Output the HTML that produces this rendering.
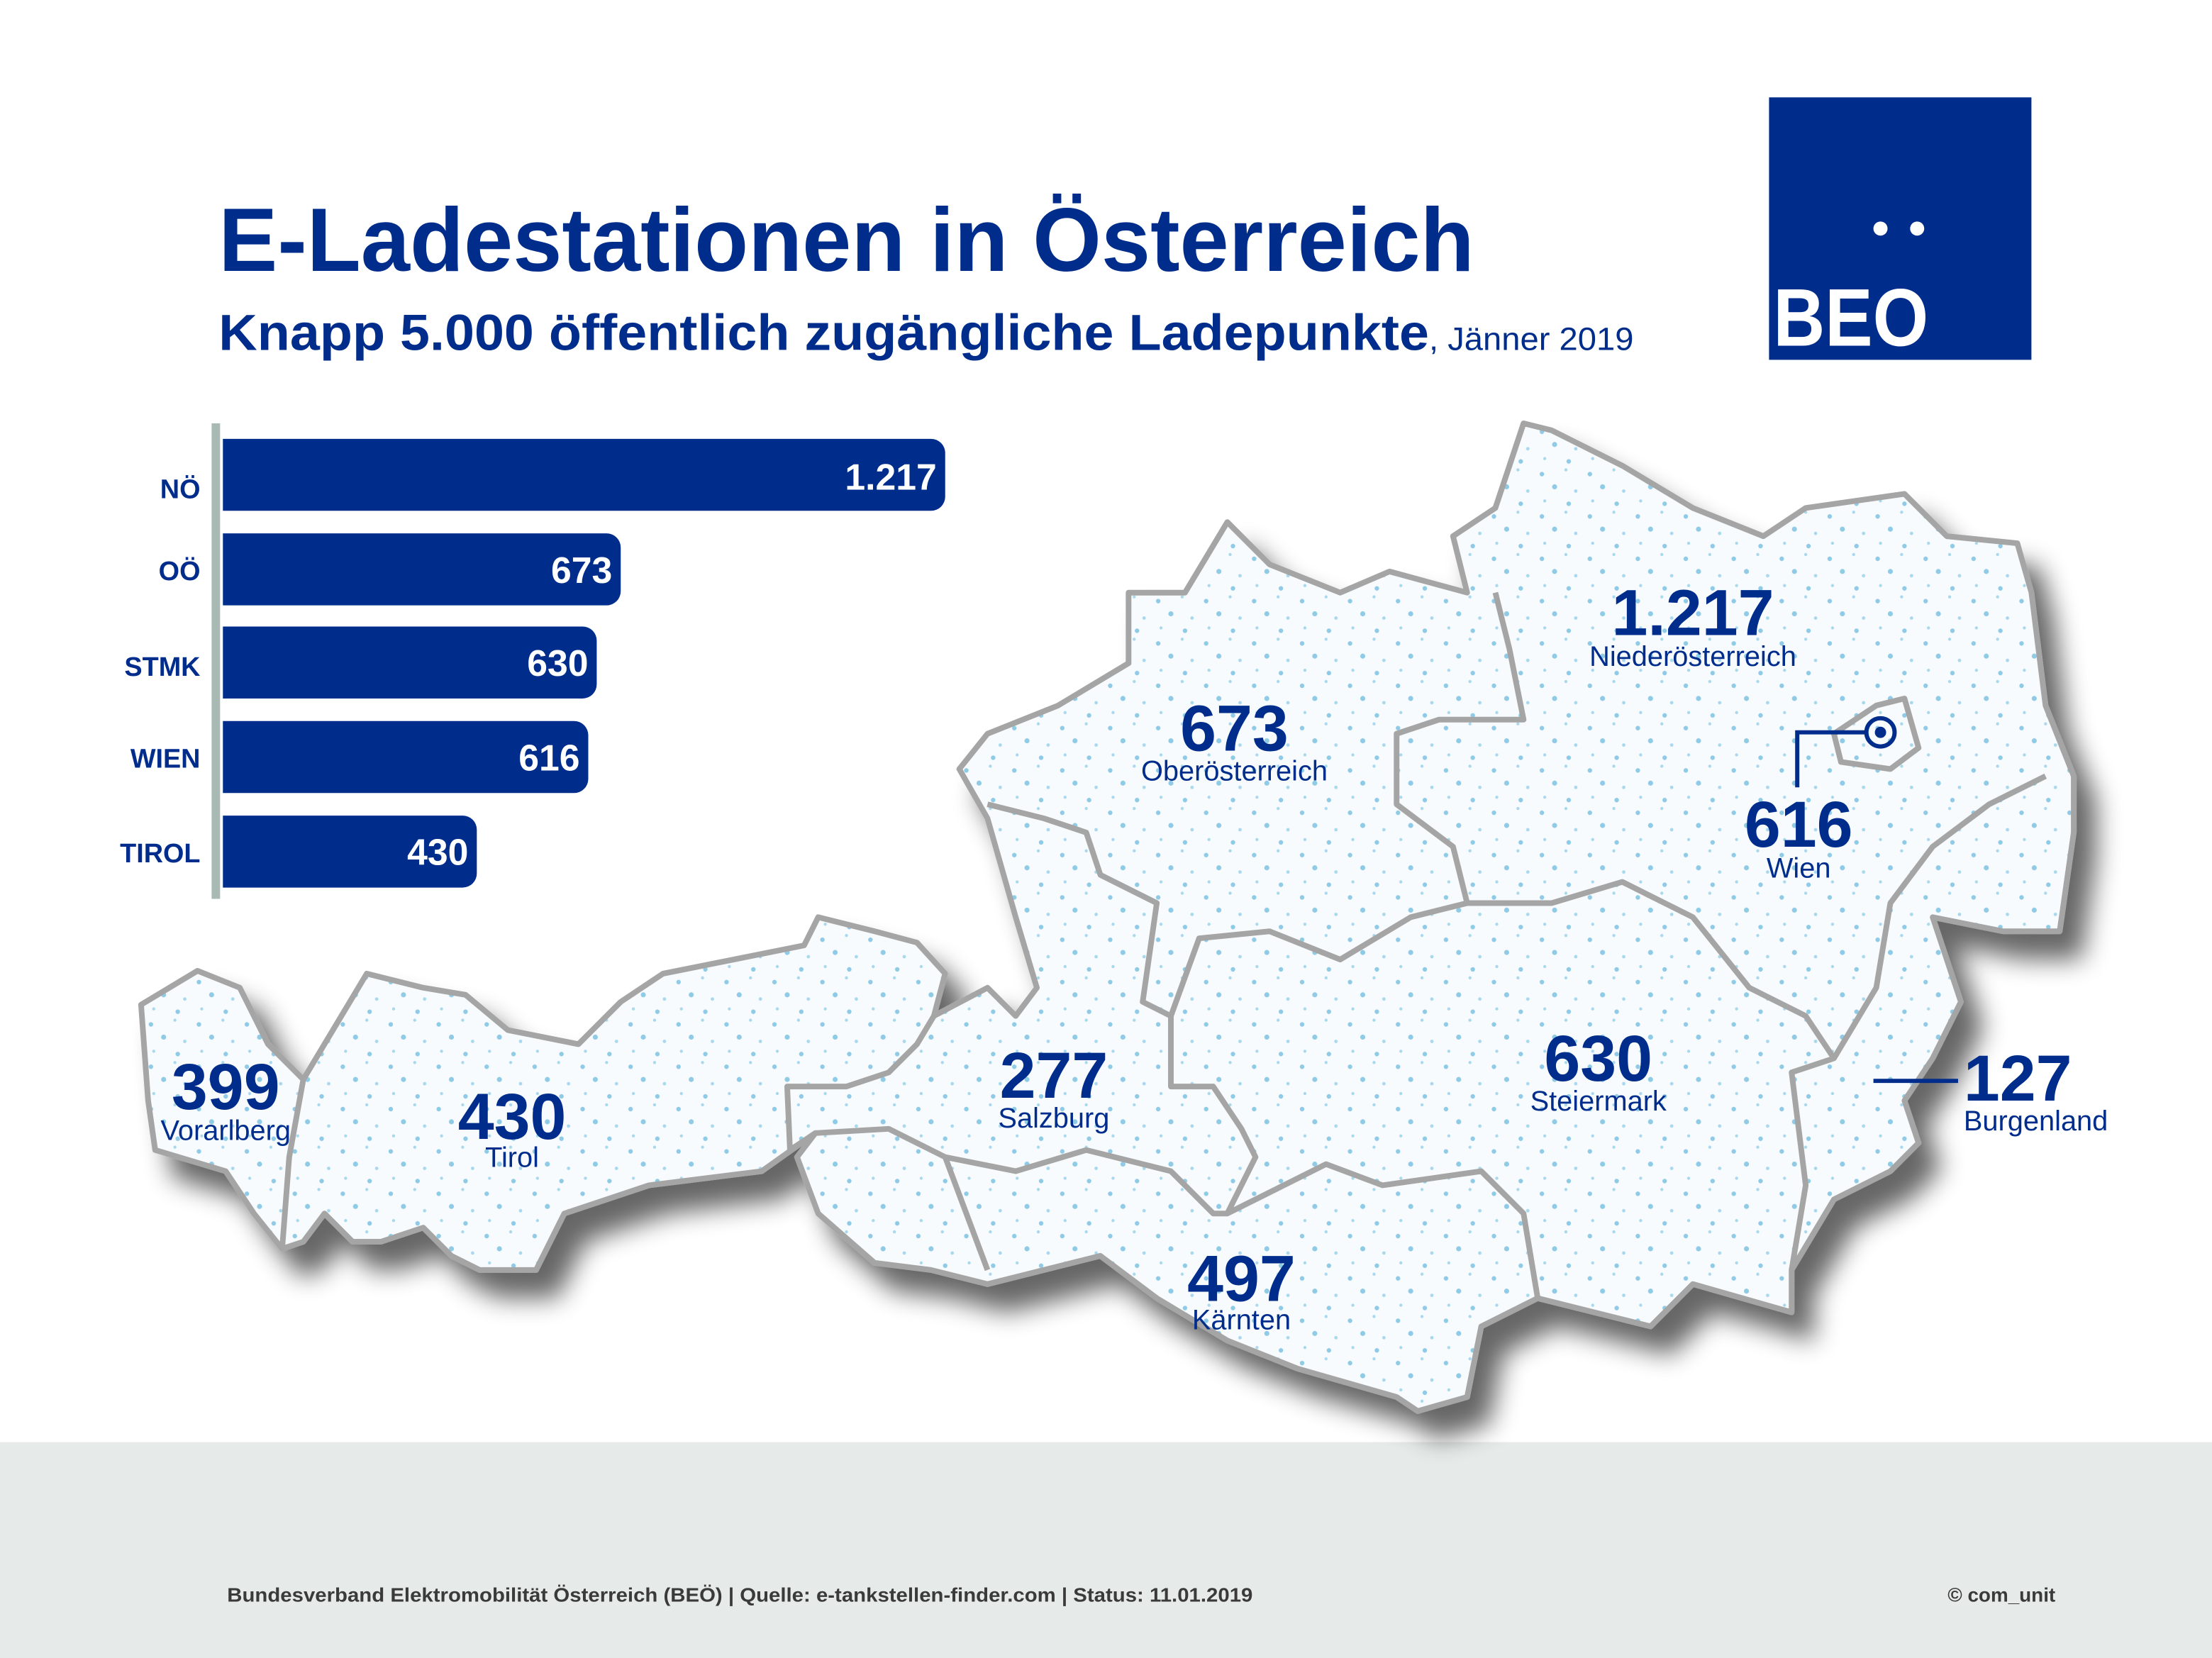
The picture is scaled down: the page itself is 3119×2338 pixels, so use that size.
<!DOCTYPE html>
<html><head><meta charset="utf-8"><style>
html,body{margin:0;padding:0;background:#fff;}
svg{display:block;}
text{font-family:"Liberation Sans",sans-serif;}
</style></head><body>
<svg width="3119" height="2338" viewBox="0 0 1568 1175" preserveAspectRatio="none" xmlns="http://www.w3.org/2000/svg">
<defs>
<pattern id="dots" width="34" height="30" patternUnits="userSpaceOnUse">
<rect width="34" height="30" fill="#f7fbfd"/>
<circle cx="5" cy="6" r="1.6" fill="#8fcbe6"/>
<circle cx="22" cy="3" r="1.1" fill="#a8d8ee"/>
<circle cx="14" cy="15" r="1.8" fill="#8fcbe6"/>
<circle cx="29" cy="18" r="1.2" fill="#a8d8ee"/>
<circle cx="7" cy="25" r="1.1" fill="#a8d8ee"/>
<circle cx="24" cy="27" r="1.6" fill="#8fcbe6"/>
</pattern>
<filter id="sh" x="-10%" y="-10%" width="130%" height="130%">
<feGaussianBlur in="SourceAlpha" stdDeviation="9"/>
<feOffset dx="14" dy="18"/>
<feComponentTransfer><feFuncA type="linear" slope="0.6"/></feComponentTransfer>
<feMerge><feMergeNode/><feMergeNode in="SourceGraphic"/></feMerge>
</filter>
</defs>
<rect x="0" y="1022" width="1568" height="153" fill="#e6ebe9"/>

<!-- map -->
<path filter="url(#sh)" fill="url(#dots)" stroke="#a5a5a5" stroke-width="4" stroke-linejoin="round" d="M100,712 L140,688 L170,700 L190,740 L215,765 L260,690 L300,700 L330,705 L360,730 L410,740 L440,710 L470,690 L520,680 L570,670 L580,650 L620,660 L650,668 L670,690 L662,720 L700,700 L720,720 L735,700 L720,650 L700,580 L680,545 L700,520 L750,500 L800,470 L800,420 L840,420 L870,370 L900,400 L950,420 L985,405 L1040,420 L1030,380 L1060,360 L1080,300 L1100,305 L1150,330 L1200,360 L1250,380 L1280,360 L1350,350 L1380,380 L1430,385 L1440,420 L1450,500 L1470,550 L1470,590 L1460,660 L1420,660 L1370,650 L1390,710 L1370,750 L1350,780 L1360,810 L1340,830 L1300,850 L1270,900 L1270,930 L1200,910 L1170,940 L1090,920 L1050,940 L1040,990 L1005,1000 L990,990 L920,970 L870,950 L820,920 L780,890 L700,910 L660,900 L620,895 L580,860 L565,820 L578,803 L540,830 L460,840 L400,860 L380,900 L340,900 L320,890 L300,870 L270,880 L250,880 L230,860 L215,880 L200,885 L180,860 L160,830 L110,815 L105,780 Z"/>
<g fill="none" stroke="#a5a5a5" stroke-width="4" stroke-linejoin="round">
<path d="M215,765 L205,820 L200,885"/>
<path d="M662,720 L650,740 L630,760 L600,770 L558,770 L560,815 L578,803 L630,800 L670,820 L700,900"/>
<path d="M700,570 L740,580 L770,590 L780,620 L820,640 L810,710 L830,720 L830,770 L860,770 L880,800 L890,820 L870,860"/>
<path d="M670,820 L720,830 L770,815 L830,830 L860,860 L870,860 L940,825 L980,840 L1050,830 L1080,860 L1090,920"/>
<path d="M830,720 L850,665 L900,660 L950,680 L1000,650 L1040,640 L1030,600 L990,570 L990,520 L1020,510 L1080,510 L1070,460 L1060,420"/>
<path d="M1040,640 L1100,640 L1150,625 L1200,650 L1240,700 L1280,720 L1300,750 L1270,760 L1280,840 L1270,900"/>
<path d="M1300,750 L1330,700 L1340,640 L1370,600 L1410,570 L1450,550"/>
<path d="M1300,520 L1330,500 L1350,495 L1360,530 L1340,545 L1305,540 Z"/>
</g>

<!-- title -->
<text x="155" y="192" font-size="64" font-weight="bold" fill="#002d8c" textLength="890" lengthAdjust="spacingAndGlyphs">E-Ladestationen in Österreich</text>
<text x="155" y="248" font-size="36" font-weight="bold" fill="#002d8c" textLength="858" lengthAdjust="spacingAndGlyphs">Knapp 5.000 öffentlich zugängliche Ladepunkte</text>
<text x="1013" y="248" font-size="23" fill="#002d8c" textLength="145" lengthAdjust="spacingAndGlyphs">, Jänner 2019</text>

<!-- logo -->
<rect x="1254" y="69" width="186" height="186" fill="#002d8c"/>
<circle cx="1333" cy="162" r="5" fill="#fff"/>
<circle cx="1359" cy="162" r="5" fill="#fff"/>
<text x="1257" y="245" font-size="58" font-weight="bold" fill="#fff" textLength="110" lengthAdjust="spacingAndGlyphs">BEO</text>

<!-- bars -->
<rect x="150" y="300" width="6" height="337" fill="#a9b9b3"/>
<g fill="#002d8c">
<path d="M158,311 H660 a10,10 0 0 1 10,10 V352 a10,10 0 0 1 -10,10 H158 Z"/>
<path d="M158,378 H430 a10,10 0 0 1 10,10 V419 a10,10 0 0 1 -10,10 H158 Z"/>
<path d="M158,444 H413 a10,10 0 0 1 10,10 V485 a10,10 0 0 1 -10,10 H158 Z"/>
<path d="M158,511 H407 a10,10 0 0 1 10,10 V552 a10,10 0 0 1 -10,10 H158 Z"/>
<path d="M158,578 H328 a10,10 0 0 1 10,10 V619 a10,10 0 0 1 -10,10 H158 Z"/>
</g>
<g font-size="19" font-weight="bold" fill="#002d8c" text-anchor="end">
<text x="142" y="353">NÖ</text><text x="142" y="411">OÖ</text><text x="142" y="479">STMK</text><text x="142" y="544">WIEN</text><text x="142" y="611">TIROL</text>
</g>
<g font-size="26" font-weight="bold" fill="#fff" text-anchor="end">
<text x="664" y="347">1.217</text><text x="434" y="413">673</text><text x="417" y="479">630</text><text x="411" y="546">616</text><text x="332" y="613">430</text>
</g>

<!-- map labels -->
<g fill="#002d8c" text-anchor="middle">
<g font-size="46" font-weight="bold">
<text x="1200" y="450">1.217</text><text x="875" y="532">673</text><text x="1275" y="600">616</text><text x="160" y="786">399</text><text x="363" y="807">430</text><text x="747" y="778">277</text><text x="1133" y="766">630</text><text x="880" y="922">497</text>
</g>
<g font-size="20">
<text x="1200" y="472">Niederösterreich</text><text x="875" y="553">Oberösterreich</text><text x="1275" y="622">Wien</text><text x="160" y="808">Vorarlberg</text><text x="363" y="827">Tirol</text><text x="747" y="799">Salzburg</text><text x="1133" y="787">Steiermark</text><text x="880" y="942">Kärnten</text>
</g>
</g>
<text x="1392" y="780" font-size="46" font-weight="bold" fill="#002d8c">127</text>
<text x="1392" y="801" font-size="20" fill="#002d8c">Burgenland</text>
<line x1="1328" y1="766" x2="1388" y2="766" stroke="#002d8c" stroke-width="3"/>
<path d="M1274,558 V519 H1323" fill="none" stroke="#002d8c" stroke-width="3"/>
<circle cx="1333" cy="519" r="10" fill="none" stroke="#002d8c" stroke-width="3"/>
<circle cx="1333" cy="519" r="4" fill="#002d8c"/>

<!-- footer -->
<text x="161" y="1135" font-size="14" font-weight="bold" fill="#3a3a3a" textLength="727" lengthAdjust="spacingAndGlyphs">Bundesverband Elektromobilität Österreich (BEÖ) | Quelle: e-tankstellen-finder.com | Status: 11.01.2019</text>
<text x="1457" y="1135" font-size="14" font-weight="bold" fill="#3a3a3a" text-anchor="end">© com_unit</text>
</svg>
</body></html>
